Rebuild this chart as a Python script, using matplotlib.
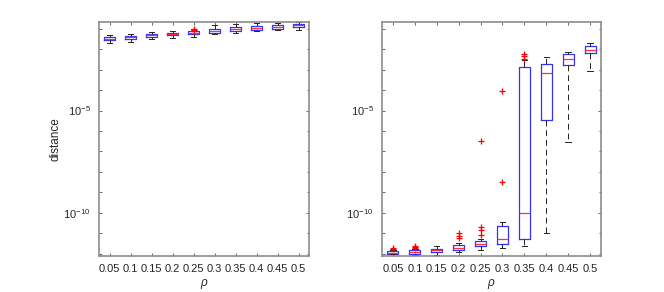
import numpy as np
import matplotlib
matplotlib.use("Agg")
import matplotlib.pyplot as plt
from matplotlib.ticker import FixedLocator, NullFormatter

plt.rcParams['font.family'] = ['Liberation Sans', 'DejaVu Sans']
plt.rcParams['mathtext.fontset'] = 'custom'
plt.rcParams['mathtext.rm'] = 'Liberation Sans'
plt.rcParams['mathtext.it'] = 'Liberation Sans:italic'

rho_labels = ['0.05', '0.1', '0.15', '0.2', '0.25', '0.3', '0.35', '0.4', '0.45', '0.5']

# log10 of box statistics
# left panel
L_med = [-1.49, -1.42, -1.33, -1.26, -1.20, -1.10, -1.04, -0.97, -0.91, -0.84]
L_q1 = [-1.55, -1.52, -1.42, -1.33, -1.28, -1.20, -1.13, -1.07, -1.01, -0.94]
L_q3 = [-1.42, -1.36, -1.25, -1.20, -1.13, -1.01, -0.94, -0.89, -0.84, -0.78]
L_lo = [-1.69, -1.64, -1.51, -1.46, -1.39, -1.28, -1.23, -1.13, -1.07, -1.08]
L_hi = [-1.33, -1.28, -1.15, -1.12, -1.04, -0.84, -0.78, -0.74, -0.72, -0.69]
L_out = [[], [], [], [], [-1.01, -1.06, -1.10], [], [], [], [], []]

# right panel
R_med = [-11.93, -11.91, -11.81, -11.70, -11.52, -11.28, -10.00, -3.17, -2.51, -2.06]
R_q1 = [-11.99, -11.99, -11.91, -11.81, -11.59, -11.49, -11.25, -5.45, -2.78, -2.17]
R_q3 = [-11.86, -11.83, -11.75, -11.55, -11.35, -10.65, -2.90, -2.74, -2.25, -1.86]
R_lo = [-12.02, -12.04, -12.06, -11.90, -11.83, -11.73, -11.60, -10.97, -6.55, -3.06]
R_hi = [-11.83, -11.77, -11.60, -11.47, -11.27, -10.46, -2.55, -2.41, -2.12, -1.72]
R_out = [[-11.70, -11.76], [-11.60, -11.67, -11.73], [], [-11.00, -11.10, -11.20],
         [-6.47, -10.68, -10.85, -11.06], [-4.03, -8.47], [-2.26, -2.34, -2.48],
         [], [], []]


def make_stats(med, q1, q3, lo, hi, out):
    stats = []
    for i in range(len(med)):
        stats.append(dict(med=10**med[i], q1=10**q1[i], q3=10**q3[i],
                          whislo=10**lo[i], whishi=10**hi[i],
                          fliers=[10**v for v in out[i]]))
    return stats


fig = plt.figure(figsize=(6.64, 2.92), dpi=100)
ax1 = fig.add_axes([99/664, 36/292, 210/664, 234/292])
ax2 = fig.add_axes([382/664, 36/292, 219/664, 234/292])

axcol = '#4d4d4d'
for ax, st in [(ax1, make_stats(L_med, L_q1, L_q3, L_lo, L_hi, L_out)),
               (ax2, make_stats(R_med, R_q1, R_q3, R_lo, R_hi, R_out))]:
    ax.bxp(st, positions=np.arange(1, 11), widths=0.5, capwidths=0.25,
           boxprops=dict(color='#3333ff', lw=0.9),
           medianprops=dict(color='#ff3030', lw=0.9),
           whiskerprops=dict(color='#222222', lw=0.7, ls=(0, (6, 4))),
           capprops=dict(color='#222222', lw=0.7),
           flierprops=dict(marker='+', markeredgecolor='red', markersize=5,
                           markeredgewidth=0.9, ls='none'))
    ax.set_yscale('log')
    ax.set_ylim(10**-12.1, 10**-0.68)
    ax.set_xlim(0.5, 10.5)
    ax.yaxis.set_major_locator(FixedLocator([1e-10, 1e-5]))
    ax.yaxis.set_minor_locator(FixedLocator([10.0**k for k in range(-12, 1)]))
    ax.yaxis.set_minor_formatter(NullFormatter())
    ax.set_yticklabels([r'$\mathregular{10^{-10}}$', r'$\mathregular{10^{-5}}$'])
    ax.set_xticks(np.arange(1, 11))
    ax.set_xticklabels(rho_labels)
    ax.tick_params(which='both', direction='in', top=True, right=True,
                   colors=axcol, labelcolor='#262626', labelsize=8,
                   length=2.5, width=0.6, pad=6)
    ax.tick_params(which='minor', length=1.8)
    for s in ax.spines.values():
        s.set_color('#8c8c8c')
        s.set_linewidth(1.2)
    ax.set_xlabel(r'$\rho$', fontsize=8.5, color='#262626', labelpad=2)

ax1.set_ylabel('distance', fontsize=8.5, color='#262626', labelpad=1)

fig.savefig('out.png', dpi=100)
